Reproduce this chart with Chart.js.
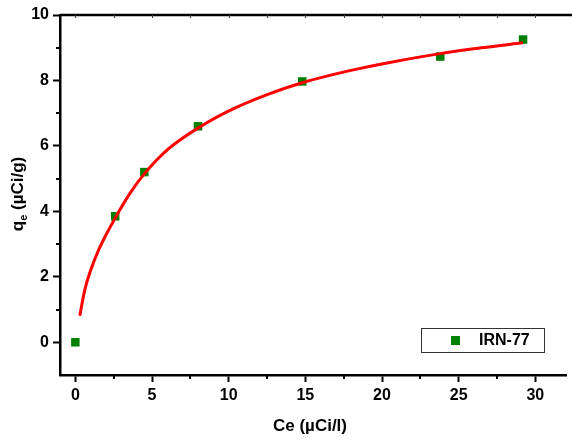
<!DOCTYPE html>
<html>
<head>
<meta charset="utf-8">
<script src="https://cdn.jsdelivr.net/npm/chart.js@4.4.1/dist/chart.umd.min.js"></script>
<style>
  html, body { margin: 0; padding: 0; background: #fff; overflow: hidden; }
</style>
</head>
<body>
<canvas id="grafico" width="572" height="441"></canvas>
<script>
// datos experimentales
const ce = [0, 2.6, 4.5, 8.0, 14.8, 23.8, 29.2];
const qe = [0, 3.85, 5.2, 6.6, 7.97, 8.73, 9.25];

// curva ajustada
const ajusteCe = [0.29, 0.62, 1.0, 1.5, 2.0, 2.6, 3.56, 4.47, 6.05, 8.12, 10.29, 12.47, 14.79, 17.9, 20.5, 23.78, 26.5, 29.2];
const ajusteQe = [0.81, 1.61, 2.2, 2.8, 3.28, 3.8, 4.55, 5.13, 5.9, 6.58, 7.13, 7.56, 7.93, 8.3, 8.55, 8.82, 9.0, 9.15];

const ticksX = [0, 5, 10, 15, 20, 25, 30];
const ticksY = [0, 2, 4, 6, 8, 10];
const menoresX = [2.5, 7.5, 12.5, 17.5, 22.5, 27.5];
const menoresY = [1, 3, 5, 7, 9];
const serie = "IRN-77";

const fuente = "Arial, 'Liberation Sans', sans-serif";

// marcas menores, eje superior, titulos y leyenda
const extras = {
  id: "extras",
  afterDraw(chart) {
    const ctx = chart.ctx;
    const a = chart.chartArea;
    const sx = chart.scales.x, sy = chart.scales.y;
    ctx.save();
    ctx.strokeStyle = "#000";
    ctx.lineWidth = 2;

    // menores abajo / izquierda
    menoresX.forEach(v => {
      const px = Math.round(sx.getPixelForValue(v));
      ctx.beginPath(); ctx.moveTo(px, a.bottom); ctx.lineTo(px, a.bottom + 4); ctx.stroke();
    });
    menoresY.forEach(v => {
      const py = Math.round(sy.getPixelForValue(v));
      ctx.beginPath(); ctx.moveTo(a.left, py); ctx.lineTo(a.left - 4, py); ctx.stroke();
    });

    // eje superior
    ctx.lineWidth = 2.5;
    ctx.beginPath(); ctx.moveTo(a.left, a.top); ctx.lineTo(572, a.top); ctx.stroke();
    ctx.lineWidth = 1;
    ctx.strokeStyle = "#444";
    [...ticksX, ...menoresX].forEach(v => {
      const px = Math.round(sx.getPixelForValue(v)) + 0.5;
      ctx.beginPath(); ctx.moveTo(px, a.top); ctx.lineTo(px, a.top + 3); ctx.stroke();
    });

    // titulo eje x
    ctx.fillStyle = "#000";
    ctx.font = "bold 17px " + fuente;
    ctx.textAlign = "center";
    ctx.textBaseline = "middle";
    ctx.fillText("Ce (\u00B5Ci/l)", 310, 426);

    // titulo eje y con subindice
    ctx.translate(18, 194);
    ctx.rotate(-Math.PI / 2);
    ctx.textAlign = "left";
    ctx.font = "bold 17px " + fuente;
    const w1 = ctx.measureText("q").width;
    const w3 = ctx.measureText(" (\u00B5Ci/g)").width;
    ctx.font = "bold 11px " + fuente;
    const w2 = ctx.measureText("e").width;
    let x0 = -(w1 + w2 + w3) / 2;
    ctx.font = "bold 17px " + fuente;
    ctx.fillText("q", x0, 0);
    ctx.font = "bold 11px " + fuente;
    ctx.fillText("e", x0 + w1, 6);
    ctx.font = "bold 17px " + fuente;
    ctx.fillText(" (\u00B5Ci/g)", x0 + w1 + w2, 0);
    ctx.setTransform(1, 0, 0, 1, 0, 0);

    // leyenda
    ctx.strokeStyle = "#333";
    ctx.lineWidth = 1;
    ctx.strokeRect(421.5, 328.5, 123, 24);
    ctx.fillStyle = "#008000";
    ctx.fillRect(451, 336, 9, 9);
    ctx.fillStyle = "#000";
    ctx.font = "bold 16px " + fuente;
    ctx.textAlign = "left";
    ctx.textBaseline = "middle";
    ctx.fillText(serie, 479, 341);
    ctx.restore();
  }
};

new Chart(document.getElementById("grafico"), {
  type: "scatter",
  data: {
    datasets: [
      {
        label: "Ajuste",
        data: ajusteCe.map((x, i) => ({ x, y: ajusteQe[i] })),
        showLine: true,
        borderColor: "#ff0000",
        borderWidth: 3,
        pointRadius: 0,
        cubicInterpolationMode: "monotone",
        fill: false
      },
      {
        label: serie,
        data: ce.map((x, i) => ({ x, y: qe[i] })),
        pointStyle: "rect",
        pointRadius: 6,
        pointBorderWidth: 0,
        backgroundColor: "#008000",
        borderColor: "#008000"
      }
    ]
  },
  options: {
    responsive: false,
    animation: false,
    devicePixelRatio: 1,
    layout: { padding: { top: 15, left: 0, right: 0, bottom: 0 } },
    plugins: { legend: { display: false }, tooltip: { enabled: false } },
    scales: {
      x: {
        type: "linear",
        min: -1,
        max: 32,
        afterBuildTicks: s => { s.ticks = ticksX.map(v => ({ value: v })); },
        afterFit: s => { s.height = 66; },
        grid: { drawOnChartArea: false, drawTicks: true, tickLength: 7, tickWidth: 2, tickColor: "#000" },
        border: { display: true, color: "#000", width: 2.5 },
        ticks: { color: "#000", font: { family: fuente, size: 16, weight: "bold" }, padding: 4, maxRotation: 0 }
      },
      y: {
        min: -1,
        max: 10,
        afterBuildTicks: s => { s.ticks = ticksY.map(v => ({ value: v })); },
        afterFit: s => { s.width = 60; },
        grid: { drawOnChartArea: false, drawTicks: true, tickLength: 7, tickWidth: 2, tickColor: "#000" },
        border: { display: true, color: "#000", width: 2.5 },
        ticks: { color: "#000", font: { family: fuente, size: 16, weight: "bold" }, padding: 4 }
      }
    }
  },
  plugins: [extras]
});
</script>
</body>
</html>
